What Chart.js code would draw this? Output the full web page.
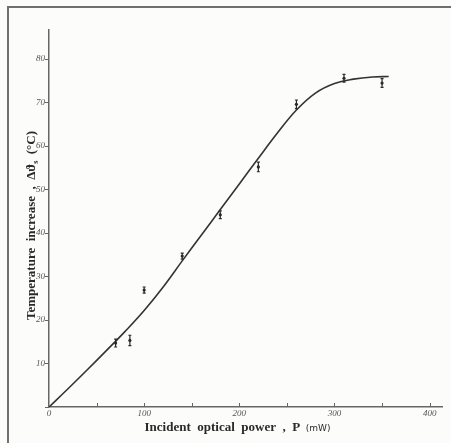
<!DOCTYPE html>
<html>
<head>
<meta charset="utf-8">
<script src="https://cdn.jsdelivr.net/npm/chart.js@4.4.1/dist/chart.umd.min.js"></script>
<style>
  html, body { margin: 0; padding: 0; background: #fcfcfb; }
  #wrap { position: relative; width: 451px; height: 443px; overflow: hidden; }
  #frame { position: absolute; left: 7px; top: 6px; right: -4px; bottom: -4px;
           border-left: 2px solid #707070; border-top: 2px solid #707070; }
  canvas { position: absolute; left: 0; top: 0; }
</style>
</head>
<body>
<div id="wrap"><div id="frame"></div><canvas id="chart" width="451" height="443"></canvas></div>
<script>
// Fitted curve
const curveX = [0, 20, 40, 60, 80, 100, 120, 140, 160, 180, 200, 220, 240, 260, 280, 300, 320, 340, 357];
const curveY = [0, 4.2, 8.5, 12.9, 17.4, 22.2, 27.6, 33.6, 39.5, 45.4, 51.3, 57.2, 63.0, 68.3, 72.2, 74.4, 75.4, 75.9, 76];

// Measured points with error bars
const ptX = [70, 85, 100, 140, 180, 220, 260, 310, 350];
const ptY = [14.7, 15.3, 26.9, 34.7, 44.2, 55.2, 69.6, 75.6, 74.5];
const ptErr = [0.9, 1.2, 0.7, 0.7, 0.9, 1.1, 1.0, 0.9, 1.0];

// Axis ticks
const xTicks = [0, 50, 100, 150, 200, 250, 300, 350, 400];
const yTicks = [0, 10, 20, 30, 40, 50, 60, 70, 80];

const ink = '#2a2a2a';
const axisCol = '#666';
const tickFont = { family: '"Liberation Serif", serif', size: 9, style: 'italic' };

const errorBars = {
  id: 'errorBars',
  afterDatasetsDraw(chart) {
    const { ctx, scales: { x, y } } = chart;
    ctx.save();
    ctx.strokeStyle = ink;
    ctx.lineWidth = 1.2;
    for (let i = 0; i < ptX.length; i++) {
      const px = x.getPixelForValue(ptX[i]);
      const top = y.getPixelForValue(ptY[i] + ptErr[i]);
      const bot = y.getPixelForValue(ptY[i] - ptErr[i]);
      ctx.beginPath();
      ctx.moveTo(px, top); ctx.lineTo(px, bot);
      ctx.moveTo(px - 1.5, top); ctx.lineTo(px + 1.5, top);
      ctx.moveTo(px - 1.5, bot); ctx.lineTo(px + 1.5, bot);
      ctx.stroke();
    }
    ctx.restore();
  }
};

// x ticks point inward (up) in the original
const innerTicks = {
  id: 'innerTicks',
  afterDraw(chart) {
    const { ctx, scales: { x } } = chart;
    ctx.save();
    ctx.strokeStyle = axisCol;
    ctx.lineWidth = 1;
    for (const v of xTicks) {
      if (v === 0) continue;
      const px = Math.round(x.getPixelForValue(v)) + 0.5;
      ctx.beginPath();
      ctx.moveTo(px, x.top); ctx.lineTo(px, x.top - 4);
      ctx.stroke();
    }
    ctx.restore();
  }
};

// axis titles with mixed fonts
const titles = {
  id: 'titles',
  afterDraw(chart) {
    const { ctx, chartArea: a } = chart;
    const big = 'bold 13px "Liberation Serif", serif';
    const small = '9px "DejaVu Sans", sans-serif';
    ctx.save();
    ctx.fillStyle = ink;
    ctx.textBaseline = 'alphabetic';

    // x title
    let p1 = 'Incident  optical  power  ,  P', p2 = '  (mW)';
    ctx.font = big; const w1 = ctx.measureText(p1).width;
    ctx.font = small; const w2 = ctx.measureText(p2).width;
    let sx = (a.left + a.right) / 2 - 8 - (w1 + w2) / 2;
    ctx.font = big; ctx.fillText(p1, sx, a.bottom + 24);
    ctx.font = small; ctx.fillText(p2, sx + w1, a.bottom + 24);

    // y title, rotated
    ctx.translate(a.left - 14, (a.top + a.bottom) / 2 + 7);
    ctx.rotate(-Math.PI / 2);
    const q1 = 'Temperature  increase  ,  Δϑ', q2 = 's', q3 = '  (°C)';
    const sub = 'bold 8px "Liberation Serif", serif';
    ctx.font = big; const v1 = ctx.measureText(q1).width, v3 = ctx.measureText(q3).width;
    ctx.font = sub; const v2 = ctx.measureText(q2).width;
    let sy = -(v1 + v2 + v3) / 2;
    ctx.font = big; ctx.fillText(q1, sy, 0);
    ctx.font = sub; ctx.fillText(q2, sy + v1, 3);
    ctx.font = big; ctx.fillText(q3, sy + v1 + v2, 0);
    ctx.restore();
  }
};

new Chart(document.getElementById('chart'), {
  type: 'scatter',
  data: {
    datasets: [
      {
        type: 'line',
        data: curveX.map((v, i) => ({ x: v, y: curveY[i] })),
        borderColor: '#333',
        borderWidth: 1.6,
        pointRadius: 0,
        tension: 0.4,
        fill: false
      },
      {
        data: ptX.map((v, i) => ({ x: v, y: ptY[i] })),
        backgroundColor: ink,
        borderColor: ink,
        pointRadius: 1.6,
        borderWidth: 0
      }
    ]
  },
  options: {
    responsive: false,
    animation: false,
    layout: { padding: { top: 30, right: 9, left: 0, bottom: 0 } },
    plugins: { legend: { display: false }, tooltip: { enabled: false } },
    scales: {
      x: {
        type: 'linear', min: 0, max: 413,
        afterBuildTicks: s => { s.ticks = xTicks.map(v => ({ value: v })); },
        afterFit: s => { s.height = 36; },
        ticks: { font: tickFont, color: '#555', padding: 1, maxRotation: 0,
                 callback: v => (v % 100 === 0 ? v : '') },
        grid: { drawOnChartArea: false, tickLength: 0 },
        border: { color: axisCol, width: 1.5 }
      },
      y: {
        type: 'linear', min: 0, max: 86.7,
        afterBuildTicks: s => { s.ticks = yTicks.map(v => ({ value: v })); },
        afterFit: s => { s.width = 49; },
        ticks: { font: tickFont, color: '#555', padding: 0,
                 callback: v => (v === 0 ? '' : v) },
        grid: { drawOnChartArea: false, tickLength: 4, color: axisCol },
        border: { color: axisCol, width: 1.5 }
      }
    }
  },
  plugins: [errorBars, innerTicks, titles]
});
</script>
</body>
</html>
